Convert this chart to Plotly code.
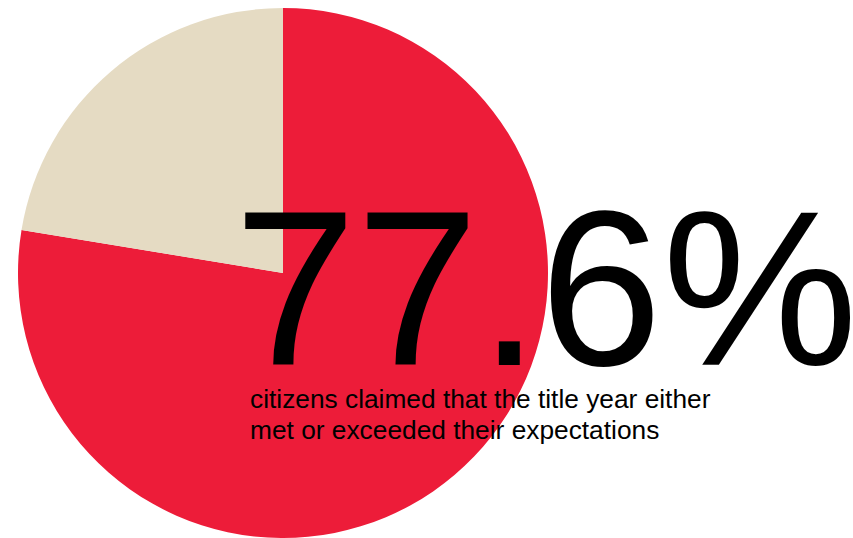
import plotly.graph_objects as go

labels = ["Met or exceeded expectations", "Did not meet expectations"]
values = [77.6, 22.4]
colors = ["#ED1C39", "#E5DBC3"]
headline = "77.6%"
subtitle_lines = ["citizens claimed that the title year either",
                  "met or exceeded their expectations"]

W, H = 853, 538
cx, cy_top, r = 283, 273, 265

fig = go.Figure(go.Pie(
    labels=labels, values=values, sort=False, direction="clockwise", rotation=0,
    marker=dict(colors=colors, line=dict(width=0)),
    textinfo="none", hoverinfo="label+percent",
    domain=dict(x=[(cx - r) / W, (cx + r) / W], y=[(H - cy_top - r) / H, (H - cy_top + r) / H]),
    showlegend=False,
))

fig.add_annotation(text=headline, xref="paper", yref="paper", x=232 / W, y=1 - 289 / H,
                   xanchor="left", yanchor="middle", showarrow=False,
                   font=dict(family="Arial, Liberation Sans", size=220, color="#000000"))
for i, line in enumerate(subtitle_lines):
    fig.add_annotation(text=line, xref="paper", yref="paper", x=248 / W,
                       y=1 - (416 + 31 * i) / H,
                       xanchor="left", yanchor="bottom", showarrow=False, align="left",
                       font=dict(family="Arial, Liberation Sans", size=26.3, color="#000000"))

fig.update_layout(width=W, height=H, margin=dict(l=0, r=0, t=0, b=0),
                  paper_bgcolor="white", plot_bgcolor="white")
fig.write_html("out.html")
